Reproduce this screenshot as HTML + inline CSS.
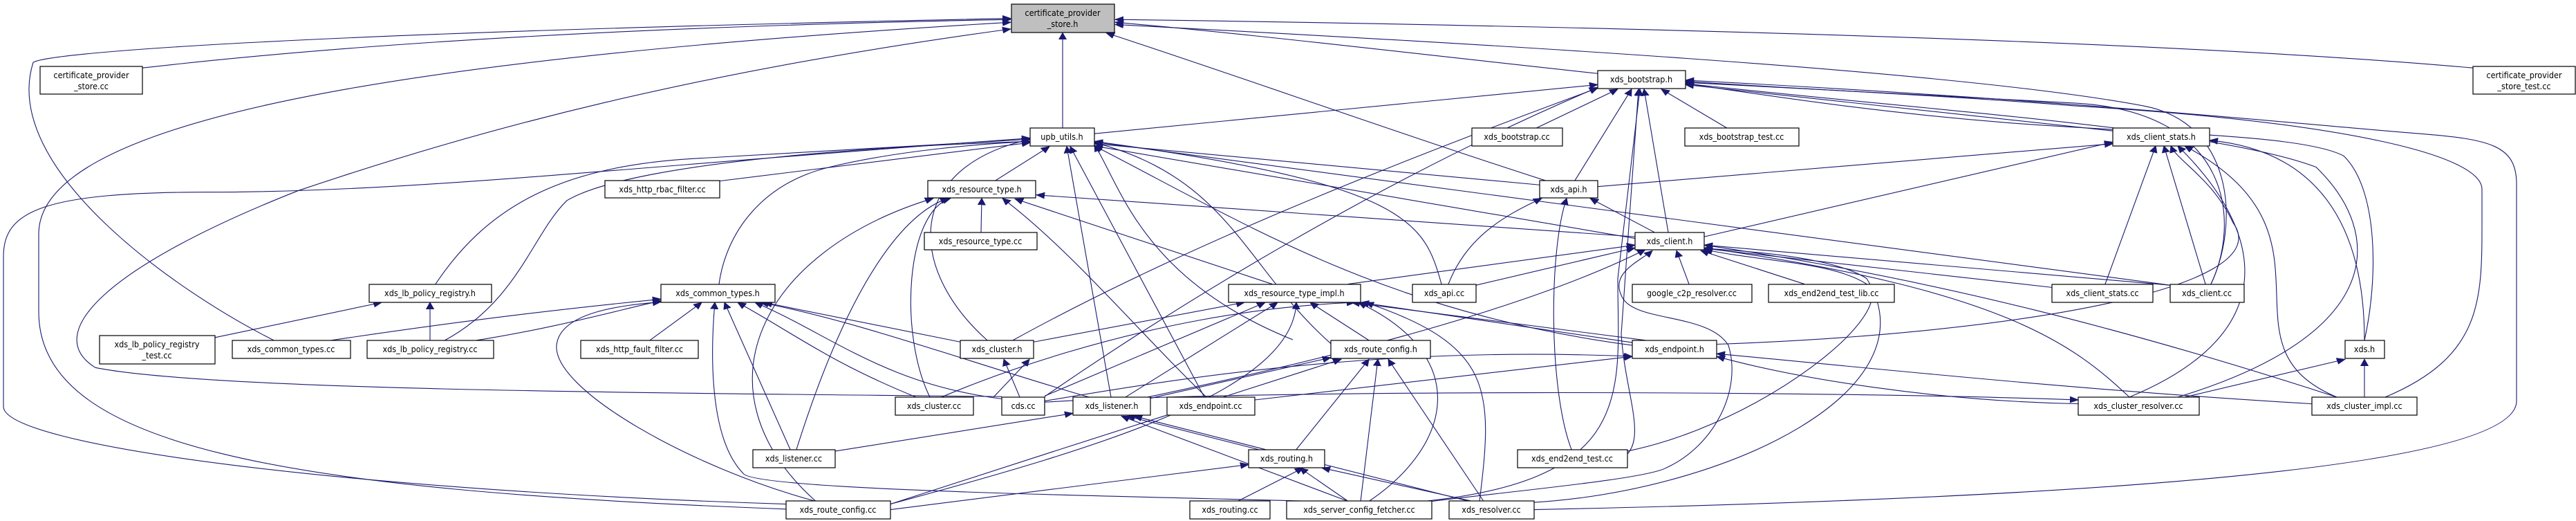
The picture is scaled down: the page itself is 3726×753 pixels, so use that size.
<!DOCTYPE html>
<html><head><meta charset="utf-8"><style>
html,body{margin:0;padding:0;background:#fff;overflow:hidden;}
svg{display:block;}
text{font-family:"DejaVu Sans Condensed","DejaVu Sans","Liberation Sans",sans-serif;font-size:12.5px;fill:#000;text-anchor:middle;}
.e{fill:none;stroke:#191970;stroke-width:1.1;marker-end:url(#a);vector-effect:non-scaling-stroke;}
.n{fill:#fff;stroke:#000;stroke-width:1.2;}
</style></head><body>
<svg width="3726" height="753" viewBox="0 0 3726 753" xmlns="http://www.w3.org/2000/svg">
<defs><marker id="a" markerUnits="userSpaceOnUse" markerWidth="13" markerHeight="12" refX="12" refY="6" orient="auto"><path d="M0,0.5 L12,6 L0,11.5 Z" fill="#191970" stroke="#191970"/></marker></defs>
<g transform="scale(1,0.805)">
<path class="e" d="M206,122 C500,80 900,48 1462,35"/>
<path class="e" d="M396,611 C250,520 0,300 48,112 C70,95 400,60 1462,33"/>
<path class="e" d="M1449,712 C900,705 300,700 138,660 C60,600 150,480 432,342 C700,230 1000,130 1462,52"/>
<path class="e" d="M1137,914 C400,880 56,800 56,560 L56,420 C56,230 500,110 1462,40"/>
<path class="e" d="M1537,230 L1537,59"/>
<path class="e" d="M2311,132 C2000,90 1800,60 1613,40"/>
<path class="e" d="M2235,324 C2000,230 1800,140 1600,59"/>
<path class="e" d="M3577,122 C3200,80 2500,50 1613,35"/>
<path class="e" d="M3198,510 C3240,400 3230,220 3100,190 C2800,120 2000,70 1613,44"/>
<path class="e" d="M1137,905 C500,880 5,800 5,730 L5,460 C5,380 60,345 300,345 C600,345 900,300 1490,248"/>
<path class="e" d="M630,510 C700,380 800,300 1000,285 C1200,270 1400,255 1490,250"/>
<path class="e" d="M642,612 C750,540 770,420 820,360 C900,300 1200,265 1490,254"/>
<path class="e" d="M1041,325 L1490,256"/>
<path class="e" d="M1040,510 C1050,420 1100,330 1200,300 C1300,270 1420,258 1490,254"/>
<path class="e" d="M1440,324 L1518,263"/>
<path class="e" d="M1428,611 C1310,480 1310,300 1490,250"/>
<path class="e" d="M1607,713 L1543,263"/>
<path class="e" d="M1742,713 L1548,263"/>
<path class="e" d="M1870,610 C1650,500 1620,330 1583,260"/>
<path class="e" d="M1925,617 C1800,480 1780,320 1583,256"/>
<path class="e" d="M2227,332 L1583,258"/>
<path class="e" d="M2085,510 C2060,400 2040,330 1583,254"/>
<path class="e" d="M2365,428 L1583,262"/>
<path class="e" d="M3139,512 L1583,255"/>
<path class="e" d="M2361,620 C2000,560 1800,400 1583,262"/>
<path class="e" d="M622,611 L622,543"/>
<path class="e" d="M311,606 L552,543"/>
<path class="e" d="M684,612 C800,590 900,555 956,540"/>
<path class="e" d="M474,612 C700,570 850,550 956,537"/>
<path class="e" d="M1180,900 C1000,840 800,700 805,620 C810,560 900,548 956,542"/>
<path class="e" d="M1900,900 C1600,890 1090,880 1075,850 C1020,780 1030,600 1034,543"/>
<path class="e" d="M940,611 L1015,543"/>
<path class="e" d="M1389,614 L1105,543"/>
<path class="e" d="M1325,713 C1200,650 1150,600 1067,543"/>
<path class="e" d="M1449,716 C1280,690 1200,600 1092,543"/>
<path class="e" d="M1575,713 C1400,650 1250,580 1100,543"/>
<path class="e" d="M1143,807 L1048,543"/>
<path class="e" d="M1419,417 L1420,356"/>
<path class="e" d="M1345,713 C1300,600 1310,380 1375,356"/>
<path class="e" d="M1152,807 C1230,500 1310,380 1372,356"/>
<path class="e" d="M1745,713 C1650,600 1550,450 1450,356"/>
<path class="e" d="M1840,510 L1468,357"/>
<path class="e" d="M2365,425 L1499,350"/>
<path class="e" d="M1180,900 C1000,700 1100,450 1350,356"/>
<path class="e" d="M1437,713 L1489,645"/>
<path class="e" d="M1475,713 L1452,645"/>
<path class="e" d="M1495,614 L1800,543"/>
<path class="e" d="M1465,611 C1700,450 2000,300 2311,158"/>
<path class="e" d="M1511,712 C1700,550 2000,320 2311,157"/>
<path class="e" d="M1511,711 L1830,543"/>
<path class="e" d="M1628,713 L1848,543"/>
<path class="e" d="M1980,611 L1895,543"/>
<path class="e" d="M2361,615 L1968,543"/>
<path class="e" d="M2380,611 L1955,543"/>
<path class="e" d="M2140,900 C2160,700 2160,620 1975,543"/>
<path class="e" d="M1980,900 C2100,800 2130,640 1965,543"/>
<path class="e" d="M1288,905 C1600,800 1870,700 1875,543"/>
<path class="e" d="M1361,713 C1300,750 1600,560 1960,543"/>
<path class="e" d="M1208,810 L1552,742"/>
<path class="e" d="M1820,807 L1630,747"/>
<path class="e" d="M1950,900 L1622,747"/>
<path class="e" d="M2125,900 L1640,747"/>
<path class="e" d="M1664,715 L1925,642"/>
<path class="e" d="M1875,807 L1980,645"/>
<path class="e" d="M1968,900 L1993,645"/>
<path class="e" d="M2146,900 L2008,645"/>
<path class="e" d="M1288,905 C1500,820 1800,700 1940,645"/>
<path class="e" d="M1288,915 L1806,834"/>
<path class="e" d="M1790,900 L1885,840"/>
<path class="e" d="M1950,900 L1880,840"/>
<path class="e" d="M2130,900 L1912,840"/>
<path class="e" d="M1511,720 C1700,680 2000,620 2361,640"/>
<path class="e" d="M1815,718 L2361,640"/>
<path class="e" d="M2095,510 C2120,430 2170,390 2230,356"/>
<path class="e" d="M2273,807 C2240,700 2240,450 2266,356"/>
<path class="e" d="M2393,417 L2300,356"/>
<path class="e" d="M2135,512 L2365,445"/>
<path class="e" d="M1950,510 L2365,440"/>
<path class="e" d="M1660,713 C1900,650 2200,560 2380,448"/>
<path class="e" d="M2443,510 L2425,450"/>
<path class="e" d="M2610,510 L2460,450"/>
<path class="e" d="M2968,516 L2465,446"/>
<path class="e" d="M3139,512 L2465,440"/>
<path class="e" d="M3080,713 C3000,620 2900,520 2465,445"/>
<path class="e" d="M3380,713 C3100,600 2800,500 2465,440"/>
<path class="e" d="M2354,810 C2550,760 2750,560 2700,510 C2650,470 2550,470 2465,448"/>
<path class="e" d="M2219,902 C2500,880 2800,700 2700,500 C2650,460 2520,450 2465,446"/>
<path class="e" d="M2071,900 C2200,880 2380,860 2410,840 C2480,800 2520,700 2500,620 C2470,560 2360,580 2345,530 C2330,490 2370,470 2390,450"/>
<path class="e" d="M1583,240 L2311,152"/>
<path class="e" d="M2278,324 L2360,160"/>
<path class="e" d="M2413,417 L2378,160"/>
<path class="e" d="M2222,230 L2340,160"/>
<path class="e" d="M2498,230 L2403,160"/>
<path class="e" d="M3056,235 L2438,152"/>
<path class="e" d="M2060,900 C2370,860 2340,700 2340,500 L2372,160"/>
<path class="e" d="M2354,815 C2380,780 2350,700 2345,600 L2370,160"/>
<path class="e" d="M3198,510 C3240,400 3230,200 3000,185 C2800,170 2600,160 2438,148"/>
<path class="e" d="M3420,611 C3440,500 3440,340 3390,280 C3330,240 3100,240 2900,220 C2700,200 2550,170 2438,150"/>
<path class="e" d="M3450,713 C3590,640 3590,540 3590,400 L3590,340 C3590,280 3400,220 3000,190 C2800,170 2600,160 2438,146"/>
<path class="e" d="M2219,915 C2800,900 3640,860 3640,720 L3640,330 C3640,260 3600,250 3500,240 C3300,220 3000,180 2438,144"/>
<path class="e" d="M3150,713 C3450,600 3450,420 3350,300 C3200,230 2800,200 2438,150"/>
<path class="e" d="M2465,425 L3056,255"/>
<path class="e" d="M2311,335 L3056,258"/>
<path class="e" d="M3045,510 L3118,262"/>
<path class="e" d="M3190,510 L3130,262"/>
<path class="e" d="M3080,713 C3300,600 3280,420 3150,262"/>
<path class="e" d="M3380,713 C3200,620 3400,420 3160,262"/>
<path class="e" d="M2483,618 C2900,600 3300,520 3230,400 C3200,320 3150,290 3140,262"/>
<path class="e" d="M3420,611 C3420,400 3350,270 3196,252"/>
<path class="e" d="M3160,713 L3392,645"/>
<path class="e" d="M3420,713 L3420,645"/>
<path class="e" d="M3006,725 C2800,720 2600,680 2483,640"/>
<path class="e" d="M3344,725 C3000,700 2700,660 2483,635"/>
<path class="e" d="M1511,722 C1800,700 2600,700 3006,718"/>
</g>
<g>
<rect x="1463" y="6" width="149" height="41" fill="#bfbfbf" stroke="#000" stroke-width="1.2"/>
<text x="1537" y="23">certificate_provider</text><text x="1537" y="39">_store.h</text>
<rect class="n" x="58" y="96" width="148" height="40"/>
<text x="132" y="113">certificate_provider</text><text x="132" y="129">_store.cc</text>
<rect class="n" x="3577" y="96" width="148" height="40"/>
<text x="3651" y="113">certificate_provider</text><text x="3651" y="129">_store_test.cc</text>
<rect class="n" x="1490" y="185" width="93" height="26"/><text x="1536" y="202">upb_utils.h</text>
<rect class="n" x="2311" y="102" width="127" height="26"/><text x="2374" y="119">xds_bootstrap.h</text>
<rect class="n" x="2129" y="185" width="131" height="26"/><text x="2194" y="202">xds_bootstrap.cc</text>
<rect class="n" x="2437" y="185" width="165" height="26"/><text x="2519" y="202">xds_bootstrap_test.cc</text>
<rect class="n" x="3056" y="185" width="140" height="26"/><text x="3126" y="202">xds_client_stats.h</text>
<rect class="n" x="875" y="261" width="166" height="25"/><text x="958" y="278">xds_http_rbac_filter.cc</text>
<rect class="n" x="1342" y="261" width="156" height="25"/><text x="1420" y="278">xds_resource_type.h</text>
<rect class="n" x="2227" y="261" width="84" height="25"/><text x="2269" y="278">xds_api.h</text>
<rect class="n" x="1337" y="336" width="163" height="25"/><text x="1418" y="353">xds_resource_type.cc</text>
<rect class="n" x="2365" y="336" width="100" height="25"/><text x="2415" y="353">xds_client.h</text>
<rect class="n" x="534" y="411" width="177" height="26"/><text x="622" y="428">xds_lb_policy_registry.h</text>
<rect class="n" x="956" y="411" width="165" height="26"/><text x="1038" y="428">xds_common_types.h</text>
<rect class="n" x="1777" y="411" width="191" height="26"/><text x="1872" y="428">xds_resource_type_impl.h</text>
<rect class="n" x="2043" y="411" width="92" height="26"/><text x="2089" y="428">xds_api.cc</text>
<rect class="n" x="2361" y="411" width="173" height="26"/><text x="2447" y="428">google_c2p_resolver.cc</text>
<rect class="n" x="2558" y="411" width="182" height="26"/><text x="2649" y="428">xds_end2end_test_lib.cc</text>
<rect class="n" x="2968" y="411" width="146" height="26"/><text x="3041" y="428">xds_client_stats.cc</text>
<rect class="n" x="3139" y="411" width="107" height="26"/><text x="3192" y="428">xds_client.cc</text>
<rect class="n" x="144" y="485" width="167" height="41"/><text x="227" y="502">xds_lb_policy_registry</text><text x="227" y="518">_test.cc</text>
<rect class="n" x="336" y="492" width="171" height="26"/><text x="421" y="509">xds_common_types.cc</text>
<rect class="n" x="531" y="492" width="183" height="26"/><text x="622" y="509">xds_lb_policy_registry.cc</text>
<rect class="n" x="840" y="492" width="170" height="26"/><text x="925" y="509">xds_http_fault_filter.cc</text>
<rect class="n" x="1389" y="492" width="106" height="26"/><text x="1442" y="509">xds_cluster.h</text>
<rect class="n" x="1925" y="492" width="144" height="26"/><text x="1997" y="509">xds_route_config.h</text>
<rect class="n" x="2361" y="492" width="122" height="26"/><text x="2422" y="509">xds_endpoint.h</text>
<rect class="n" x="3392" y="492" width="57" height="26"/><text x="3420" y="509">xds.h</text>
<rect class="n" x="1295" y="574" width="113" height="26"/><text x="1351" y="591">xds_cluster.cc</text>
<rect class="n" x="1449" y="574" width="62" height="26"/><text x="1480" y="591">cds.cc</text>
<rect class="n" x="1552" y="574" width="112" height="26"/><text x="1608" y="591">xds_listener.h</text>
<rect class="n" x="1688" y="574" width="127" height="26"/><text x="1751" y="591">xds_endpoint.cc</text>
<rect class="n" x="3006" y="574" width="175" height="26"/><text x="3093" y="591">xds_cluster_resolver.cc</text>
<rect class="n" x="3344" y="574" width="152" height="26"/><text x="3420" y="591">xds_cluster_impl.cc</text>
<rect class="n" x="1089" y="650" width="119" height="26"/><text x="1148" y="667">xds_listener.cc</text>
<rect class="n" x="1806" y="650" width="110" height="26"/><text x="1861" y="667">xds_routing.h</text>
<rect class="n" x="2195" y="650" width="159" height="26"/><text x="2274" y="667">xds_end2end_test.cc</text>
<rect class="n" x="1137" y="724" width="151" height="26"/><text x="1212" y="741">xds_route_config.cc</text>
<rect class="n" x="1721" y="724" width="116" height="26"/><text x="1779" y="741">xds_routing.cc</text>
<rect class="n" x="1861" y="724" width="210" height="26"/><text x="1966" y="741">xds_server_config_fetcher.cc</text>
<rect class="n" x="2096" y="724" width="123" height="26"/><text x="2157" y="741">xds_resolver.cc</text>
</g>
</svg>
</body></html>
